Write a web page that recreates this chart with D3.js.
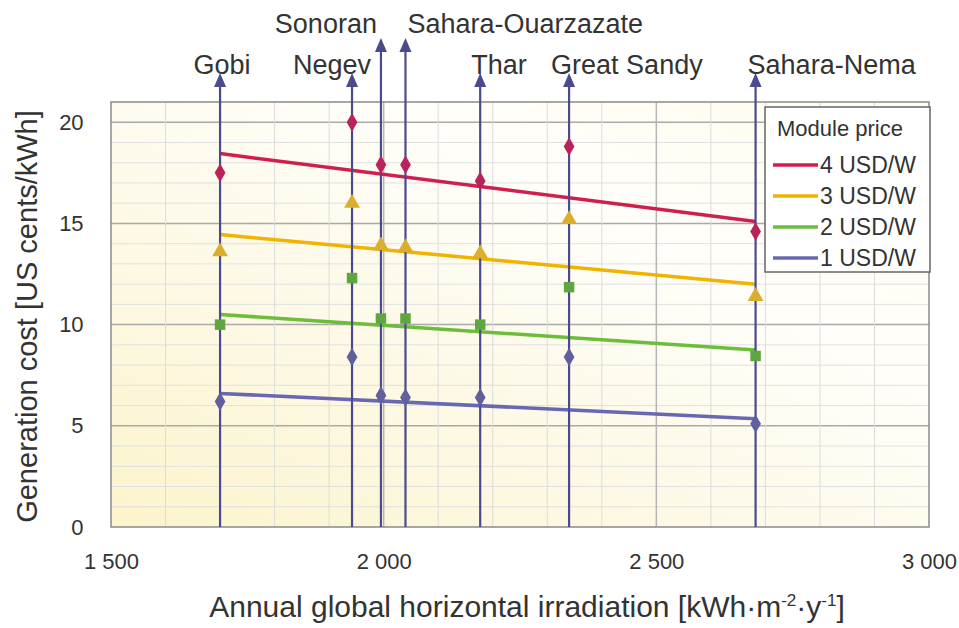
<!DOCTYPE html>
<html>
<head>
<meta charset="utf-8">
<script src="https://cdn.jsdelivr.net/npm/d3@7"></script>
<style>
  body { margin: 0; background: #fff; }
  text { font-family: "Liberation Sans", Arial, sans-serif; fill: #333; }
</style>
</head>
<body>
<svg id="chart"></svg>
<script>
const width = 959;
const height = 628;

// desert sites and their irradiation
const sites = ['Gobi', 'Negev', 'Sonoran', 'Sahara-Ouarzazate', 'Thar', 'Great Sandy', 'Sahara-Nema'];
const irradiation = [1700, 1942, 1995, 2040, 2177, 2340, 2682];

// generation cost per module price
const prices = ['4 USD/W', '3 USD/W', '2 USD/W', '1 USD/W'];
const cost4 = [17.5, 20.0, 17.9, 17.9, 17.1, 18.8, 14.6];
const cost3 = [13.6, 16.0, 13.9, 13.8, 13.5, 15.2, 11.4];
const cost2 = [10.0, 12.3, 10.3, 10.3, 10.0, 11.85, 8.45];
const cost1 = [6.2, 8.4, 6.5, 6.4, 6.4, 8.4, 5.1];
// fitted trend lines (value at Gobi, value at Sahara-Nema)
const fitStart = [18.45, 14.45, 10.5, 6.6];
const fitEnd = [15.1, 12.0, 8.75, 5.35];

const xTicks = [1500, 2000, 2500, 3000];
const yTicks = [0, 5, 10, 15, 20];

const costs = [cost4, cost3, cost2, cost1];
const colors = ['#cf1f4c', '#f0b400', '#6cbd3a', '#6868b2'];
const markerColors = ['#b8245a', '#dcae30', '#5fa540', '#60609e'];
const markerShapes = [d3.symbolDiamond, d3.symbolTriangle, d3.symbolSquare, d3.symbolDiamond];
const markerSizes = [100, 110, 110, 100];
const arrowColor = '#4b4a8c';

// label placement: row (0 lower, 1 upper), anchor and shift from arrow
const labelLayout = [
  {row: 0, anchor: 'middle', dx: 2},
  {row: 0, anchor: 'end', dx: 19},
  {row: 1, anchor: 'end', dx: -4},
  {row: 1, anchor: 'start', dx: 2},
  {row: 0, anchor: 'start', dx: -9},
  {row: 0, anchor: 'start', dx: -18},
  {row: 0, anchor: 'start', dx: -8}
];

const margin = {left: 111, right: 30, top: 102, bottom: 101};

const svg = d3.select('#chart')
  .attr('width', width)
  .attr('height', height);

const x = d3.scaleLinear().domain([1500, 3000]).range([margin.left, width - margin.right]);
const y = d3.scaleLinear().domain([0, 21]).range([height - margin.bottom, margin.top]);

const defs = svg.append('defs');
const grad = defs.append('linearGradient')
  .attr('id', 'bg')
  .attr('x1', '0').attr('y1', '1').attr('x2', '0.9').attr('y2', '0.1');
grad.append('stop').attr('offset', '0').attr('stop-color', '#fbf4cc');
grad.append('stop').attr('offset', '0.4').attr('stop-color', '#fdf9e6');
grad.append('stop').attr('offset', '0.75').attr('stop-color', '#fffefa');
grad.append('stop').attr('offset', '1').attr('stop-color', '#fffdf0');

const plot = svg.append('g');

plot.append('rect')
  .attr('x', x(1500)).attr('y', y(21))
  .attr('width', x(3000) - x(1500)).attr('height', y(0) - y(21))
  .attr('fill', 'url(#bg)');

// grid
plot.append('g').selectAll('line')
  .data(d3.range(1, 21))
  .enter().append('line')
  .attr('x1', x(1500)).attr('x2', x(3000))
  .attr('y1', d => y(d)).attr('y2', d => y(d))
  .attr('stroke', d => d % 5 === 0 ? '#a9a9a9' : '#e0e0e0')
  .attr('stroke-width', d => d % 5 === 0 ? 1.5 : 1);

plot.append('g').selectAll('line')
  .data(d3.range(1600, 3000, 100))
  .enter().append('line')
  .attr('x1', d => x(d)).attr('x2', d => x(d))
  .attr('y1', y(0)).attr('y2', y(21))
  .attr('stroke', d => d % 500 === 0 ? '#b5b5b5' : '#dcdcdc')
  .attr('stroke-width', d => d % 500 === 0 ? 1.5 : 1);

plot.append('rect')
  .attr('x', x(1500)).attr('y', y(21))
  .attr('width', x(3000) - x(1500)).attr('height', y(0) - y(21))
  .attr('fill', 'none')
  .attr('stroke', '#8a8a8a')
  .attr('stroke-width', 1.5);

// axes
const xAxis = svg.append('g')
  .attr('transform', `translate(0, ${y(0) + 20})`)
  .call(d3.axisBottom(x).tickValues(xTicks).tickSize(0)
    .tickFormat(d => d3.format(',')(d).replace(',', ' ')));
const yAxis = svg.append('g')
  .attr('transform', `translate(${x(1500) - 20}, 0)`)
  .call(d3.axisLeft(y).tickValues(yTicks).tickSize(0));
[xAxis, yAxis].forEach(a => {
  a.select('.domain').remove();
  a.selectAll('text').attr('font-size', 22).attr('fill', '#555')
    .style('font-family', '"Liberation Sans", Arial, sans-serif');
});
xAxis.selectAll('text').attr('dy', '0.85em');
yAxis.selectAll('text').attr('dx', '-0.2em');

// site arrows
const rowTip = [73, 38];
const rowText = [74, 33];
const arrows = svg.append('g');
sites.forEach((s, i) => {
  const lay = labelLayout[i];
  const cx = x(irradiation[i]);
  const tip = rowTip[lay.row];
  arrows.append('line')
    .attr('x1', cx).attr('x2', cx)
    .attr('y1', y(0)).attr('y2', tip + 10)
    .attr('stroke', arrowColor)
    .attr('stroke-width', 2.2);
  arrows.append('path')
    .attr('d', `M${cx},${tip} L${cx - 6},${tip + 14} L${cx + 6},${tip + 14} Z`)
    .attr('fill', arrowColor);
  svg.append('text')
    .attr('x', cx + lay.dx)
    .attr('y', rowText[lay.row])
    .attr('text-anchor', lay.anchor)
    .attr('font-size', 27)
    .attr('fill', '#3a3a3a')
    .text(s);
});

// trend lines
costs.forEach((c, k) => {
  plot.append('line')
    .attr('x1', x(irradiation[0])).attr('y1', y(fitStart[k]))
    .attr('x2', x(irradiation[irradiation.length - 1])).attr('y2', y(fitEnd[k]))
    .attr('stroke', colors[k])
    .attr('stroke-width', 3.5);
});

// markers
costs.forEach((c, k) => {
  svg.append('g').selectAll('path')
    .data(c)
    .enter().append('path')
    .attr('transform', (d, i) => `translate(${x(irradiation[i])}, ${y(d)})`)
    .attr('d', d3.symbol().type(markerShapes[k]).size(markerSizes[k]))
    .attr('fill', markerColors[k]);
});

// legend
const legend = svg.append('g').attr('transform', 'translate(765, 107)');
legend.append('rect')
  .attr('width', 165).attr('height', 165)
  .attr('fill', '#fff')
  .attr('stroke', '#666')
  .attr('stroke-width', 1.5);
legend.append('text')
  .attr('x', 12).attr('y', 29)
  .attr('font-size', 22)
  .text('Module price');
prices.forEach((p, k) => {
  const ly = 58 + k * 31;
  legend.append('line')
    .attr('x1', 8).attr('x2', 53)
    .attr('y1', ly).attr('y2', ly)
    .attr('stroke', colors[k]).attr('stroke-width', 3.5);
  legend.append('text')
    .attr('x', 55).attr('y', ly + 8)
    .attr('font-size', 23)
    .text(p);
});

// axis titles
svg.append('text')
  .attr('transform', `translate(37, ${(y(0) + y(21)) / 2 + 2}) rotate(-90)`)
  .attr('text-anchor', 'middle')
  .attr('font-size', 29)
  .attr('fill', '#3a3a3a')
  .text('Generation cost [US cents/kWh]');

const xTitle = svg.append('text')
  .attr('x', 527).attr('y', 617)
  .attr('text-anchor', 'middle')
  .attr('font-size', 30)
  .attr('fill', '#3a3a3a');
xTitle.append('tspan').text('Annual global horizontal irradiation [kWh\u00b7m');
xTitle.append('tspan').attr('dy', -11).attr('font-size', 17).text('-2');
xTitle.append('tspan').attr('dy', 11).text('\u00b7y');
xTitle.append('tspan').attr('dy', -11).attr('font-size', 17).text('-1');
xTitle.append('tspan').attr('dy', 11).text(']');
</script>
</body>
</html>
